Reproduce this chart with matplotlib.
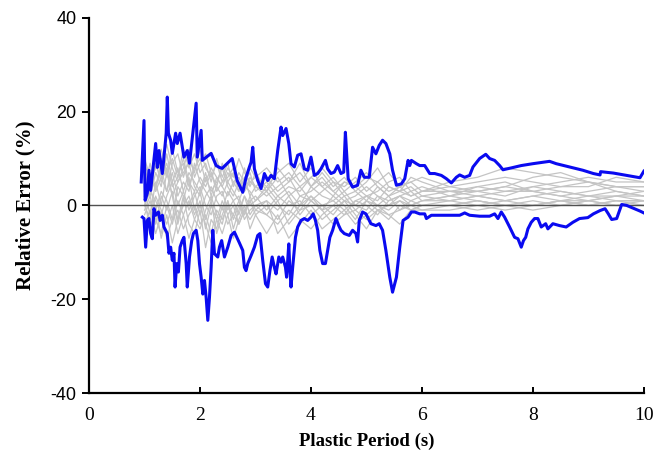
import matplotlib
matplotlib.use("Agg")
import matplotlib.pyplot as plt

# blue envelopes: (period s, relative error %)
upper_env = [
    (0.94, 5.0), (0.99, 18.1), (1.01, 1.1), (1.05, 2.6), (1.08, 7.5), (1.11, 3.2),
    (1.20, 13.2), (1.23, 8.1), (1.26, 11.7), (1.32, 6.8), (1.35, 10.3), (1.39, 15.4),
    (1.41, 23.1), (1.43, 15.4), (1.47, 13.9), (1.50, 11.1), (1.56, 15.4), (1.59, 13.2),
    (1.64, 15.4), (1.71, 10.3), (1.77, 11.7), (1.81, 9.0), (1.93, 21.8), (1.95, 10.3),
    (2.02, 16.0), (2.04, 9.6), (2.20, 11.1), (2.29, 8.5), (2.35, 8.1), (2.40, 7.9),
    (2.58, 10.0), (2.67, 5.3), (2.77, 2.8), (2.83, 6.0), (2.89, 8.2), (2.92, 9.2),
    (2.95, 12.4), (2.98, 7.8), (3.04, 5.3), (3.10, 3.6), (3.16, 6.8), (3.22, 5.3),
    (3.28, 6.4), (3.34, 5.7), (3.40, 11.7), (3.46, 16.7), (3.49, 14.9), (3.55, 16.4),
    (3.60, 13.2), (3.64, 8.9), (3.70, 8.2), (3.76, 10.7), (3.82, 11.0), (3.88, 7.8),
    (3.94, 7.5), (4.00, 10.3), (4.06, 6.4), (4.12, 6.8), (4.18, 7.8), (4.26, 9.6),
    (4.30, 7.8), (4.36, 6.8), (4.42, 7.1), (4.48, 8.5), (4.54, 6.8), (4.59, 7.1),
    (4.62, 15.6), (4.65, 9.6), (4.67, 5.7), (4.75, 3.9), (4.84, 4.3), (4.90, 7.5),
    (4.96, 6.0), (5.05, 6.0), (5.11, 12.4), (5.17, 11.0), (5.23, 12.8), (5.29, 13.9),
    (5.35, 13.2), (5.42, 11.0), (5.47, 7.5), (5.54, 4.3), (5.63, 4.6), (5.69, 5.7),
    (5.75, 9.6), (5.78, 8.5), (5.81, 9.6), (5.90, 8.9), (5.96, 8.5), (6.05, 8.5),
    (6.14, 6.8), (6.23, 6.8), (6.35, 6.4), (6.44, 5.7), (6.53, 4.8), (6.62, 6.0),
    (6.68, 6.5), (6.77, 6.0), (6.86, 6.4), (6.92, 8.2), (7.04, 10.0), (7.15, 10.9),
    (7.22, 10.0), (7.31, 9.6), (7.40, 8.5), (7.46, 7.6), (7.61, 8.0), (7.79, 8.5),
    (8.00, 8.9), (8.12, 9.1), (8.30, 9.4), (8.42, 8.9), (8.66, 8.2), (8.90, 7.5),
    (9.09, 6.8), (9.21, 6.5), (9.22, 7.2), (9.45, 6.9), (9.69, 6.4), (9.93, 5.9),
    (10.0, 7.3),
]

lower_env = [
    (0.96, -2.5), (0.99, -2.8), (1.02, -8.9), (1.05, -3.2), (1.08, -2.8), (1.11, -6.0),
    (1.14, -7.1), (1.17, -0.7), (1.20, -2.1), (1.25, -1.4), (1.28, -3.2), (1.32, -2.1),
    (1.35, -4.6), (1.41, -6.0), (1.44, -10.2), (1.47, -8.9), (1.50, -11.7), (1.53, -10.2),
    (1.55, -17.4), (1.58, -12.4), (1.61, -14.2), (1.64, -8.9), (1.68, -7.5), (1.71, -6.8),
    (1.75, -12.4), (1.77, -17.4), (1.81, -11.0), (1.85, -7.5), (1.88, -6.0), (1.93, -5.3),
    (1.96, -7.5), (1.99, -12.4), (2.02, -15.3), (2.05, -18.9), (2.08, -16.0), (2.11, -19.6),
    (2.14, -24.5), (2.17, -19.6), (2.20, -13.2), (2.23, -5.3), (2.26, -10.3), (2.32, -11.0),
    (2.35, -8.9), (2.39, -7.5), (2.44, -11.0), (2.50, -8.9), (2.56, -6.4), (2.62, -5.7),
    (2.71, -8.0), (2.77, -9.6), (2.80, -13.2), (2.83, -13.9), (2.86, -12.4), (2.92, -10.7),
    (2.98, -8.9), (3.04, -6.4), (3.08, -6.0), (3.13, -11.7), (3.18, -16.7), (3.22, -17.4),
    (3.26, -13.9), (3.30, -11.0), (3.34, -13.2), (3.37, -14.6), (3.42, -11.0), (3.46, -12.1),
    (3.49, -11.0), (3.54, -13.2), (3.56, -15.3), (3.60, -8.2), (3.62, -13.9), (3.64, -17.4),
    (3.67, -13.2), (3.72, -6.8), (3.76, -4.6), (3.82, -3.2), (3.88, -2.8), (3.94, -3.2),
    (4.00, -2.5), (4.04, -1.8), (4.08, -3.2), (4.12, -5.3), (4.16, -9.6), (4.21, -12.4),
    (4.26, -12.4), (4.30, -9.6), (4.34, -6.8), (4.39, -5.3), (4.45, -2.8), (4.50, -4.3),
    (4.54, -5.3), (4.60, -6.0), (4.69, -6.4), (4.75, -5.3), (4.81, -6.0), (4.84, -7.8),
    (4.87, -3.2), (4.93, -1.4), (4.99, -1.8), (5.08, -3.9), (5.17, -4.3), (5.23, -3.9),
    (5.29, -5.3), (5.35, -9.6), (5.42, -15.3), (5.47, -18.5), (5.54, -15.3), (5.60, -8.9),
    (5.66, -3.2), (5.75, -2.5), (5.81, -1.4), (5.87, -1.4), (5.96, -1.8), (6.05, -1.8),
    (6.08, -2.8), (6.17, -2.1), (6.35, -2.1), (6.50, -2.1), (6.68, -2.1), (6.77, -1.6),
    (6.86, -2.1), (7.04, -2.3), (7.22, -2.3), (7.31, -1.8), (7.37, -2.8), (7.43, -1.4),
    (7.49, -2.5), (7.58, -4.6), (7.67, -6.8), (7.73, -7.1), (7.79, -8.9), (7.83, -7.5),
    (7.87, -6.8), (7.91, -5.0), (7.97, -3.6), (8.03, -2.8), (8.09, -2.8), (8.15, -4.6),
    (8.23, -3.9), (8.27, -5.0), (8.36, -3.9), (8.48, -4.3), (8.60, -4.6), (8.72, -3.6),
    (8.84, -2.8), (8.99, -2.6), (9.09, -1.8), (9.21, -1.1), (9.30, -0.7), (9.36, -1.8),
    (9.42, -3.0), (9.51, -2.8), (9.60, 0.2), (9.69, 0.0), (9.81, -0.6), (9.93, -1.2),
    (10.0, -1.6),
]

# individual records (grey), sampled coarsely
grey_x = [1.0, 1.1, 1.2, 1.3, 1.4, 1.5, 1.6, 1.7, 1.8, 1.9, 2.0, 2.1, 2.2, 2.3, 2.4,
          2.5, 2.6, 2.7, 2.8, 2.9, 3.0, 3.2, 3.4, 3.6, 3.8, 4.0, 4.2, 4.4, 4.6, 4.8,
          5.0, 5.2, 5.4, 5.6, 5.8, 6.0, 6.5, 7.0, 7.5, 8.0, 8.5, 9.0, 9.5, 10.0]

grey_runs = [
    [4, 9, 3, 10, 6, 12, 7, 9, 4, 8, 10, 5, 8, 6, 4, 7, 5, 6, 3, 5, 4,
     6, 3, 5, 7, 4, 6, 3, 5, 4, 6, 5, 3, 4, 2, 3, 4, 5, 6, 5, 4, 5, 4, 4],
    [-2, 1, -4, 2, -1, 3, -3, 0, 2, -2, 1, -5, 0, -3, 1, -2, 0, -4, -1, 1, -2,
     0, -3, 1, -1, 2, 0, -2, 1, 0, -1, 2, 0, 1, -1, 0, 1, 0, 1, 2, 1, 0, 1, 1],
    [6, 2, 7, 4, 11, 5, 8, 3, 7, 5, 3, 7, 2, 6, 4, 2, 5, 3, 6, 2, 4,
     3, 6, 2, 4, 1, 3, 5, 2, 3, 1, 4, 2, 3, 4, 2, 1, 2, 3, 4, 3, 2, 2, 3],
    [1, -5, 0, -7, -2, -8, -3, 2, -4, -6, -1, -9, -3, -5, 0, -4, -2, 1, -3, -1, 0,
     -2, 1, -4, -1, 0, -3, -1, 1, -2, -5, -1, -3, 0, -1, 0, 0, 1, 0, -1, 0, 1, 0, 0],
    [8, 4, 12, 6, 3, 9, 11, 6, 10, 7, 12, 8, 6, 9, 5, 8, 6, 10, 7, 5, 6,
     8, 5, 7, 4, 6, 8, 5, 4, 6, 3, 5, 7, 4, 5, 3, 5, 6, 8, 7, 6, 5, 4, 3],
    [2, 4, -1, 3, 1, -3, 4, 2, 0, 3, -2, 2, 4, 1, -1, 3, 1, -2, 2, 0, 1,
     3, 0, -2, 2, 1, -1, 2, 0, -3, 1, 0, 2, -1, 1, 2, 3, 2, 1, 2, 3, 2, 3, 2],
    [-4, -1, -6, -2, -7, -3, -1, -5, -2, 0, -4, -2, -6, -1, -3, 0, -2, -4, -1, -3, -1,
     -2, -4, -1, -3, -5, -2, 0, -2, -1, -3, -1, -2, -4, -1, -1, 0, -1, 0, 1, 0, 0, 0, 1],
    [5, 7, 3, 6, 9, 4, 6, 10, 5, 3, 6, 4, 7, 3, 5, 6, 8, 4, 5, 7, 3,
     5, 2, 4, 3, 6, 4, 2, 5, 4, 2, 3, 5, 6, 3, 4, 2, 3, 2, 4, 5, 6, 5, 5],
    [0, 3, 1, -2, 2, 5, 0, 3, -1, 2, 4, 0, -2, 2, 3, -1, 1, 2, -2, 1, 2,
     -1, 2, 0, 1, -2, 0, 1, -1, 1, 2, 0, -1, 1, 0, 1, 1, 2, 1, 0, 1, 1, 2, 1],
    [7, 3, 9, 5, 8, 2, 5, 7, 9, 4, 2, 6, 3, 5, 8, 4, 2, 5, 3, 6, 4,
     2, 4, 6, 2, 3, 5, 3, 1, 2, 4, 2, 1, 2, 3, 1, 2, 4, 5, 3, 2, 3, 4, 4],
    [3, -2, 5, 0, 7, 2, -4, 1, 6, -1, 3, -3, 1, -6, -2, 1, -5, -1, 2, -2, 0,
     1, -6, -3, 0, 2, -1, -4, -2, 1, 0, -2, 1, 2, 0, 1, 2, 1, 0, 0, 1, 2, 1, 0],
    [9, 5, 8, 12, 7, 10, 6, 12, 8, 11, 7, 9, 5, 10, 6, 9, 4, 7, 5, 8, 6,
     4, 7, 9, 5, 8, 4, 6, 3, 5, 7, 4, 2, 4, 5, 6, 4, 3, 4, 6, 7, 5, 3, 2],
    [-1, 2, -3, -6, 0, -4, 1, -2, -7, -3, 0, -4, -8, -3, -6, -2, -7, -3, 0, -5, -2,
     -6, -2, -7, -4, -1, -5, -3, -1, -4, -2, 0, -2, -1, 0, -1, -1, 0, -1, 0, 1, 0, 1, 1],
    [2, 6, 4, 8, 3, 7, 2, 5, 3, 9, 5, 3, 1, 4, 2, 5, 3, 1, 4, 3, 1,
     4, 1, 3, 0, 4, 2, 1, 3, 0, 2, 1, 4, 3, 2, 3, 3, 3, 4, 3, 2, 1, 2, 2],
    [0, -3, 2, -1, -4, 0, -6, -2, 1, -3, -5, -1, 2, -2, -4, 1, -3, 0, -2, 2, -1,
     1, -1, 2, -2, 1, -1, 0, 2, -1, 1, -1, 0, 2, 1, 0, 0, 1, 0, 0, 0, 1, 0, 0],
    [10, 6, 4, 9, 13, 8, 5, 8, 12, 6, 9, 11, 7, 4, 9, 5, 7, 3, 8, 4, 7,
     3, 8, 5, 9, 4, 7, 4, 6, 3, 5, 8, 4, 3, 6, 5, 3, 4, 3, 3, 4, 4, 6, 5],
]

x_ticks = [0, 2, 4, 6, 8, 10]
y_ticks = [-40, -20, 0, 20, 40]

plt.rcParams['font.family'] = ['Liberation Serif', 'DejaVu Serif']
plt.rcParams['axes.unicode_minus'] = False

fig = plt.figure(figsize=(6.55, 4.57), dpi=100)
ax = fig.add_axes([0.136, 0.140, 0.847, 0.821])

for run in grey_runs:
    ax.plot(grey_x, run, color="#c4c4c4", lw=0.9, zorder=1)

ax.axhline(0, color="#505050", lw=1.0, zorder=2)

ux, uy = zip(*upper_env)
lx, ly = zip(*lower_env)
ax.plot(ux, uy, color="#0a0af0", lw=2.2, zorder=3)
ax.plot(lx, ly, color="#0a0af0", lw=2.2, zorder=3)

ax.set_xlim(0, 10)
ax.set_ylim(-40, 40)
ax.set_xticks(x_ticks)
ax.set_yticks(y_ticks)

ax.spines["top"].set_visible(False)
ax.spines["right"].set_visible(False)
ax.spines["left"].set_linewidth(1.6)
ax.spines["bottom"].set_linewidth(1.6)
ax.tick_params(axis="y", direction="out", length=5, width=1.4, labelsize=13, pad=4)
ax.tick_params(axis="x", direction="in", length=4, width=1.4, labelsize=14, pad=10)
# y tick labels are in a sans face in the original
for lab in ax.get_yticklabels():
    lab.set_fontfamily(['Liberation Sans', 'DejaVu Sans'])

ax.set_xlabel("Plastic Period (s)", fontsize=13.5, fontweight="bold", labelpad=6)
ax.set_ylabel("Relative Error (%)", fontsize=15, fontweight="bold", labelpad=11)

fig.savefig("out.png", dpi=100)
